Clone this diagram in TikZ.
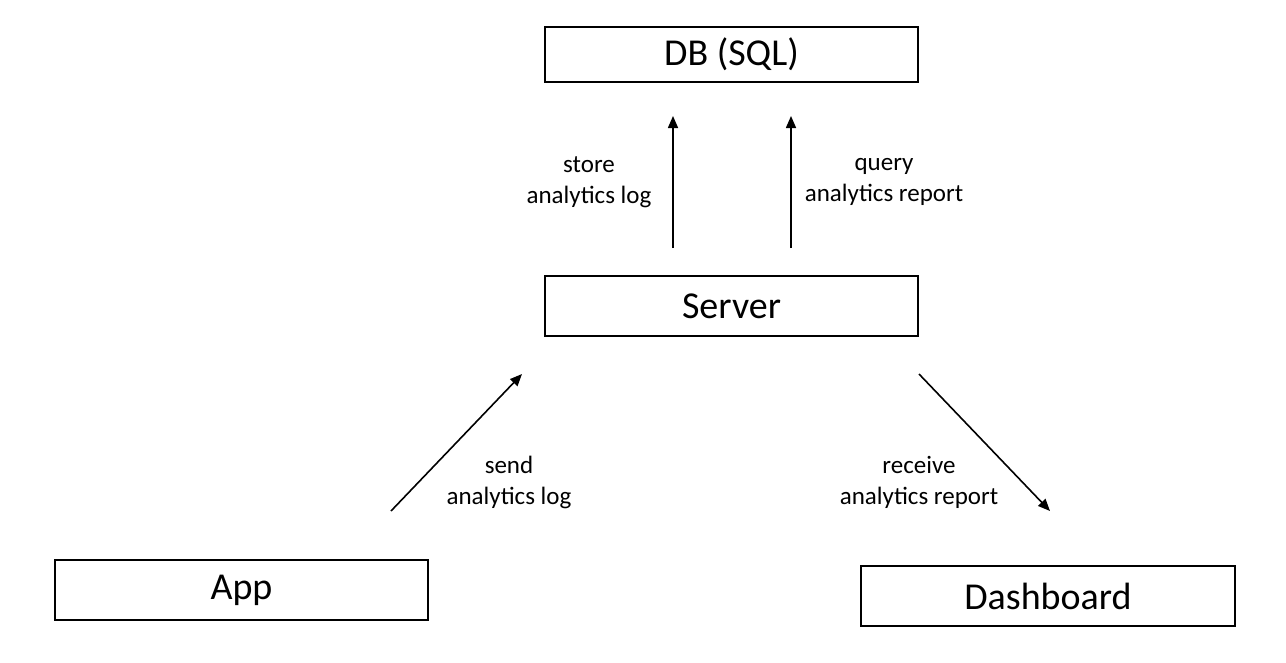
\documentclass[tikz,border=0pt]{standalone}
\usepackage{fontspec}
\setmainfont{Carlito}
\usetikzlibrary{arrows.meta}
\tikzset{
  box/.style={draw, line width=1.6pt, minimum width=373pt, minimum height=58pt, inner sep=0pt, font=\fontsize{38}{40}\selectfont},
  arr/.style={line width=1.6pt, -{Triangle[length=12pt,width=10pt]}},
  lbl/.style={align=center, inner sep=0pt, font=\fontsize{25}{31}\selectfont}
}
\begin{document}
\begin{tikzpicture}[x=1pt,y=-1pt]
\useasboundingbox (0,0) rectangle (1286,662);
\node[box, minimum height=55pt] (db) at (731.5,54.5) {DB (SQL)};
\node[box, minimum height=60pt] (server) at (731.5,306) {Server};
\node[box, minimum height=60pt] (app) at (241.5,590) {App};
\node[box, minimum height=60pt, minimum width=374pt] (dash) at (1048,596) {Dashboard};
\coordinate (s1) at (673,248);
\coordinate (d1) at (673,116);
\coordinate (s2) at (791,248);
\coordinate (d2) at (791,116);
\coordinate (a1) at (391,511);
\coordinate (a2) at (522,374);
\coordinate (r1) at (919,374);
\coordinate (r2) at (1050,511);
\draw[arr] (s1) -- (d1);
\draw[arr] (s2) -- (d2);
\draw[arr] (a1) -- (a2);
\draw[arr] (r1) -- (r2);
\node[lbl] (l1) at (589,182) {store\\analytics log};
\node[lbl] (l2) at (884,182) {query\\analytics report};
\node[lbl] (l3) at (509,482) {send\\analytics log};
\node[lbl] (l4) at (919,482) {receive\\analytics report};
\end{tikzpicture}
\end{document}
